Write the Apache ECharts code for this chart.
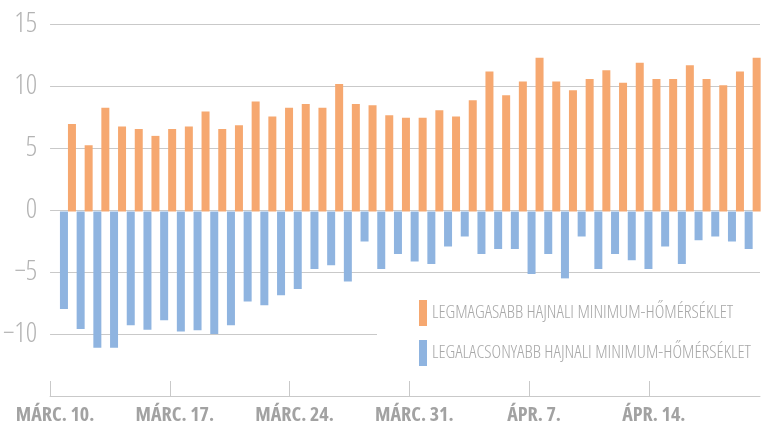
<!DOCTYPE html>
<html><head><meta charset="utf-8">
<script src="https://cdn.jsdelivr.net/npm/echarts@6/dist/echarts.min.js"></script>
<style>html,body{margin:0;padding:0;background:#fff}#c{width:761px;height:425px}</style>
</head><body><div id="c"></div>
<script>
// Days shown (one bar pair per day)
const days = [
  'márc. 11.','márc. 12.','márc. 13.','márc. 14.','márc. 15.','márc. 16.','márc. 17.',
  'márc. 18.','márc. 19.','márc. 20.','márc. 21.','márc. 22.','márc. 23.','márc. 24.',
  'márc. 25.','márc. 26.','márc. 27.','márc. 28.','márc. 29.','márc. 30.','márc. 31.',
  'ápr. 1.','ápr. 2.','ápr. 3.','ápr. 4.','ápr. 5.','ápr. 6.','ápr. 7.',
  'ápr. 8.','ápr. 9.','ápr. 10.','ápr. 11.','ápr. 12.','ápr. 13.','ápr. 14.',
  'ápr. 15.','ápr. 16.','ápr. 17.','ápr. 18.','ápr. 19.','ápr. 20.','ápr. 21.'
];
// Highest dawn minimum temperature (°C)
const highestMin = [
  7.0, 5.3, 8.3, 6.8, 6.6, 6.05, 6.6, 6.8, 8.0, 6.6, 6.9, 8.8, 7.6, 8.3,
  8.6, 8.3, 10.2, 8.6, 8.5, 7.7, 7.5, 7.5, 8.1, 7.6, 8.9, 11.2, 9.3, 10.4,
  12.3, 10.4, 9.7, 10.6, 11.3, 10.3, 11.9, 10.6, 10.6, 11.7, 10.6, 10.1, 11.2, 12.3
];
// Lowest dawn minimum temperature (°C)
const lowestMin = [
  -7.8, -9.4, -10.9, -10.9, -9.1, -9.45, -8.7, -9.6, -9.5, -9.8, -9.1, -7.2, -7.5, -6.7,
  -6.2, -4.6, -4.3, -5.6, -2.4, -4.6, -3.4, -4.0, -4.2, -2.8, -2.0, -3.4, -3.0, -3.0,
  -5.0, -3.4, -5.35, -2.0, -4.6, -3.4, -3.9, -4.6, -2.8, -4.2, -2.3, -2.0, -2.4, -3.0
];
// Week tick labels and their day offsets from márc. 10.
const tickLabels = ['MÁRC. 10.', 'MÁRC. 17.', 'MÁRC. 24.', 'MÁRC. 31.', 'ÁPR. 7.', 'ÁPR. 14.'];
const tickDays = [0, 7, 14, 21, 28, 35];
const seriesNames = ['LEGMAGASABB HAJNALI MINIMUM-HŐMÉRSÉKLET', 'LEGALACSONYABB HAJNALI MINIMUM-HŐMÉRSÉKLET'];

const ORANGE = '#F6A870', BLUE = '#8FB4E0', GRID = '#c9c9c9';
const chart = echarts.init(document.getElementById('c'));
chart.setOption({
  animation: false,
  backgroundColor: '#fff',
  grid: [
    {left: 50, right: 1, top: 24, bottom: 26},
    {left: 59.6, width: 704.6, top: 24, bottom: 26}
  ],
  xAxis: [
    {
      gridIndex: 0, type: 'value', min: 0, max: 41.5, position: 'bottom',
      axisLine: {show: true, onZero: false, lineStyle: {color: GRID, width: 1}},
      axisTick: {show: true, inside: true, length: 15, customValues: tickDays, lineStyle: {color: GRID, width: 1}},
      axisLabel: {
        customValues: tickDays, margin: 9, padding: [0, 0, 0, 10],
        formatter: v => tickLabels[tickDays.indexOf(v)] || '',
        fontFamily: "'Open Sans'", fontWeight: 'bold condensed', fontSize: 20, color: '#a2a2a2'
      },
      splitLine: {show: false}
    },
    {gridIndex: 1, type: 'category', data: days, show: false}
  ],
  yAxis: [
    {
      gridIndex: 0, type: 'value', min: -15, max: 15, interval: 5,
      axisLine: {show: false}, axisTick: {show: false},
      splitLine: {lineStyle: {color: GRID, width: 1}},
      axisLabel: {
        margin: 13, showMinLabel: false,
        formatter: v => v < 0 ? '\u2212' + (-v) : String(v),
        fontFamily: "'Open Sans'", fontWeight: '300 condensed', fontSize: 28, color: '#b3b3b3'
      }
    },
    {gridIndex: 1, type: 'value', min: -15, max: 15, show: false}
  ],
  legend: {
    orient: 'vertical', left: 377, top: 290,
    padding: [10, 100, 9, 42], backgroundColor: '#fff',
    itemWidth: 8, itemHeight: 26, itemGap: 14, icon: 'rect',
    data: [seriesNames[0], seriesNames[1]],
    textStyle: {fontFamily: "'Open Sans'", fontWeight: '300 condensed', fontSize: 18.3, color: '#a8a8a8'}
  },
  series: [
    {name: seriesNames[1], type: 'bar', xAxisIndex: 1, yAxisIndex: 1, data: lowestMin,
     barWidth: 8, barGap: '0%', itemStyle: {color: BLUE}},
    {name: seriesNames[0], type: 'bar', xAxisIndex: 1, yAxisIndex: 1, data: highestMin,
     barWidth: 8, barGap: '0%', itemStyle: {color: ORANGE}}
  ]
});
</script></body></html>
